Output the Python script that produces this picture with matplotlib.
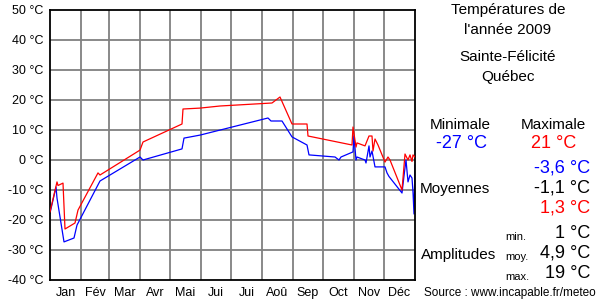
import matplotlib
matplotlib.use("Agg")
import matplotlib.pyplot as plt
import numpy as np

plt.rcParams['font.family'] = ['Liberation Sans', 'DejaVu Sans']

# day of year (0..365) and temperature readings
max_days = [0, 7, 8, 13, 15, 25, 28, 48, 50, 90, 93, 132, 133, 150, 170, 222, 230, 242, 257, 258,
            302, 303, 306, 307, 315, 319, 322, 323, 325, 328, 335, 338, 340, 352, 355, 358, 360, 362, 363, 365]
max_temp = [-17.3, -7.3, -8.5, -7.7, -23, -21, -16.7, -4.3, -5, 3.3, 6, 12, 17, 17.3, 18, 19, 21, 12, 12, 8,
            5, 11, 4.3, 5.7, 4.7, 8, 8, 3, 7, 5, -0.7, 1, 0, -10, 2, 0, 1.7, -0.5, 1.7, 1]
min_days = [0, 6, 7, 14, 24, 27, 50, 90, 93, 132, 134, 150, 218, 221, 232, 242, 257, 259, 285, 289, 291,
            303, 304, 306, 307, 315, 316, 319, 320, 322, 325, 335, 337, 339, 352, 354, 356, 358, 360, 362, 363, 364, 365]
min_temp = [-17.7, -9, -12.7, -27.3, -26, -21.7, -7, 1, 0, 3.7, 7.3, 8.3, 14, 13, 13, 7.7, 5, 1.7, 1, 0, 1,
            2.7, 8, 0, 1, 0, -1, 4.7, 1, 3, -2.3, -2.3, -4.3, -5.5, -11, -5.3, 0, -7.3, -5, -6, -10.7, -18, -1.7]

month_starts = [0, 31, 59, 90, 120, 151, 181, 212, 243, 273, 304, 334, 365]
month_labels = ['Jan', 'Fév', 'Mar', 'Avr', 'Mai', 'Jui', 'Jui', 'Aoû', 'Sep', 'Oct', 'Nov', 'Déc']
y_ticks = [-40, -30, -20, -10, 0, 10, 20, 30, 40, 50]

fig = plt.figure(figsize=(6, 3), dpi=100)
ax = fig.add_axes([50 / 600, 20 / 300, 365 / 600, 270 / 300])

grid_c = '#808080'
for d in month_starts[1:-1]:
    ax.axvline(d, color=grid_c, lw=1.3, zorder=1)
for t in y_ticks[1:-1]:
    ax.axhline(t, color=grid_c, lw=1.3, zorder=1)

ax.plot(max_days, max_temp, color='#ff0000', lw=0.9, zorder=3)
ax.plot(min_days, min_temp, color='#0000ff', lw=0.9, zorder=2)

ax.set_xlim(0, 365)
ax.set_ylim(-40, 50)
ax.set_yticks(y_ticks)
ax.set_yticklabels(['%d °C' % t for t in y_ticks], fontsize=9)
mids = [(a + b) / 2 for a, b in zip(month_starts[:-1], month_starts[1:])]
ax.set_xticks(mids)
ax.set_xticklabels(month_labels, fontsize=9)
ax.tick_params(length=0, pad=5)
for s in ax.spines.values():
    s.set_linewidth(1.3)
    s.set_color('black')

def txt(x, y, s, size=11, color='black', ha='center'):
    fig.text(x / 600, 1 - y / 300, s, fontsize=size, color=color, ha=ha, va='center')

txt(508, 10, 'Températures de')
txt(508, 30, "l'année 2009")
txt(508, 57, 'Sainte-Félicité')
txt(508, 77, 'Québec')
txt(460, 125, 'Minimale')
txt(553, 125, 'Maximale')
txt(462, 144, '-27 °C', size=13, color='#0000ff')
txt(554, 144, '21 °C', size=13, color='#ff0000')
txt(590, 168, '-3,6 °C', size=13, color='#0000ff', ha='right')
txt(420, 189, 'Moyennes', ha='left')
txt(590, 188, '-1,1 °C', size=13, ha='right')
txt(590, 208, '1,3 °C', size=13, color='#ff0000', ha='right')
txt(505, 237, 'min.', size=8, ha='left')
txt(590, 233, '1 °C', size=13, ha='right')
txt(421, 255, 'Amplitudes', ha='left')
txt(505, 257, 'moy.', size=8, ha='left')
txt(590, 253, '4,9 °C', size=13, ha='right')
txt(505, 277, 'max.', size=8, ha='left')
txt(590, 274, '19 °C', size=13, ha='right')
txt(596, 293, 'Source : www.incapable.fr/meteo', size=8.5, ha='right')

fig.savefig('out.png', dpi=100)
